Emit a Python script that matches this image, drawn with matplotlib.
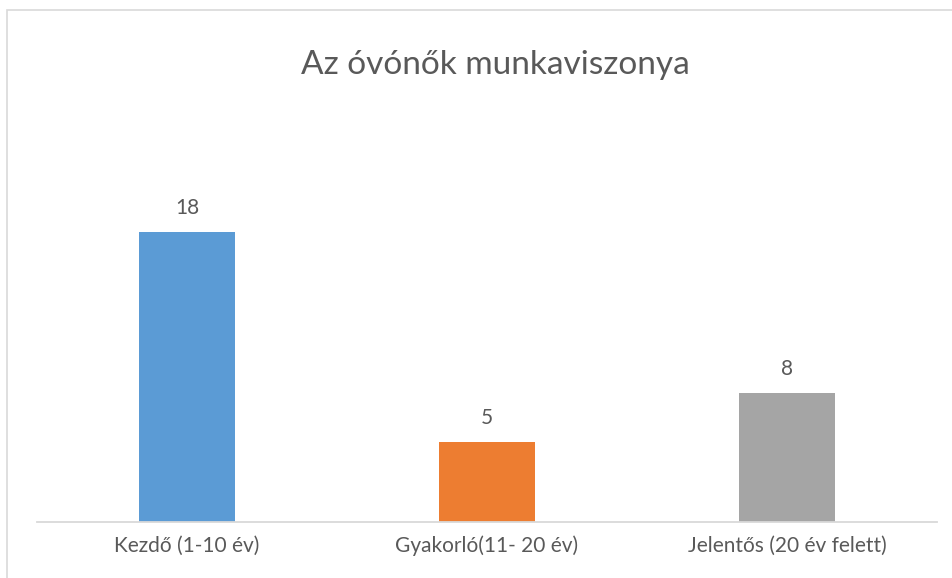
import matplotlib.pyplot as plt
from matplotlib.patches import Rectangle

# chart data
categories = ['Kezdő (1-10 év)', 'Gyakorló(11- 20 év)', 'Jelentős (20 év felett)']
values = [18, 5, 8]
colors = ['#5B9BD5', '#ED7D31', '#A5A5A5']
title = 'Az óvónők munkaviszonya'

text_color = '#595959'
line_color = '#D9D9D9'
plt.rcParams['font.family'] = ['Lato', 'DejaVu Sans']

W, H = 953, 578
fig = plt.figure(figsize=(W / 100, H / 100), dpi=100)

# outer chart frame (runs off the right and bottom edge)
fig.patches.append(Rectangle((6.5 / W, -0.1), 1.2, 1.1 - 9.5 / H,
                             transform=fig.transFigure, fill=False,
                             edgecolor=line_color, linewidth=1.2))

# plot area in pixel positions
left, right, bottom, top = 37, 937, 522, 200
ax = fig.add_axes([left / W, 1 - bottom / H, (right - left) / W, (bottom - top) / H])

x = range(len(categories))
bars = ax.bar(x, values, width=0.317, color=colors)
ax.set_xlim(-0.5, 2.5)
ax.set_ylim(0, 20)

for b, v in zip(bars, values):
    ax.annotate(str(v), (b.get_x() + b.get_width() / 2, v),
                xytext=(0, 24), textcoords='offset pixels',
                ha='center', va='center', fontsize=15, color=text_color)

for s in ['top', 'right', 'left']:
    ax.spines[s].set_visible(False)
ax.spines['bottom'].set_color(line_color)
ax.spines['bottom'].set_linewidth(1.3)
ax.set_yticks([])
ax.set_xticks(list(x))
ax.set_xticklabels(categories, fontsize=15, color=text_color)
ax.tick_params(axis='x', length=0, pad=10)

fig.text(495 / W, 1 - 65 / H, title, ha='center', va='center',
         fontsize=24, color=text_color)

fig.savefig('out.png', dpi=100)
